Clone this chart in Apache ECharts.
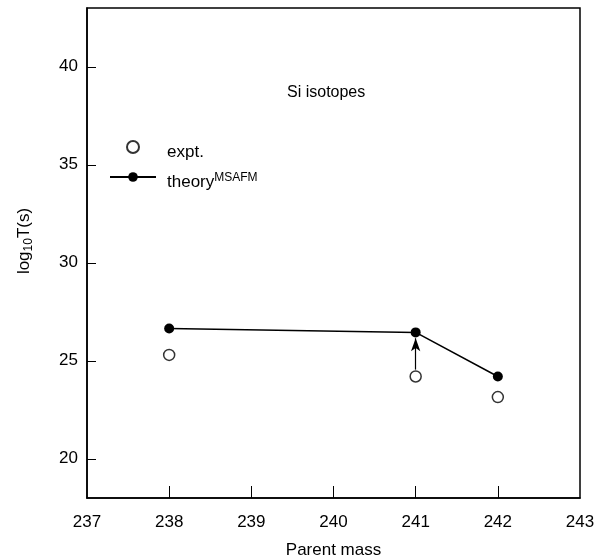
<!DOCTYPE html>
<html><head><meta charset="utf-8">
<script src="https://cdn.jsdelivr.net/npm/echarts@6/dist/echarts.min.js"></script>
<style>html,body{margin:0;padding:0;background:#fff}#c{width:606px;height:560px}</style>
</head><body><div id="c"></div>
<script>
const parentMass = [238, 241, 242];
const exptValues = [25.3, 24.2, 23.15];
const theoryValues = [26.65, 26.45, 24.2];
const xTicks = [237, 238, 239, 240, 241, 242, 243];
const yTicks = [20, 25, 30, 35, 40];
const lowerLimitMass = 241;

const F = '"Liberation Sans", Arial, sans-serif';
const chart = echarts.init(document.getElementById('c'));
chart.setOption({
  animation: false,
  backgroundColor: '#fff',
  grid: {left: 87, right: 26, top: 8, bottom: 62, show: true, borderColor: '#000', borderWidth: 1.5,
    containLabel: false, outerBoundsMode: 'none'},
  legend: {
    orient: 'vertical', left: 104, top: 135, itemGap: 11, itemWidth: 46, itemHeight: 12,
    textStyle: {fontFamily: F, fontSize: 17, color: '#000', padding: [10, 0, 0, 6],
      rich: {sup: {fontFamily: F, fontSize: 12, color: '#000', verticalAlign: 'bottom', padding: [0,0,9,0]}}},
    formatter: n => n === 'theory' ? 'theory{sup|MSAFM}' : n,
    data: [{name: 'expt.'}, {name: 'theory'}]
  },
  graphic: [{type: 'text', left: 287, top: 85, style: {text: 'Si isotopes', font: '16px ' + F, fill: '#000'}}],
  xAxis: {
    type: 'value', min: 237, max: 243,
    name: 'Parent mass', nameLocation: 'middle', nameGap: 44,
    nameTextStyle: {fontFamily: F, fontSize: 17, color: '#000'},
    axisLine: {lineStyle: {color: '#000', width: 1.5}},
    axisTick: {inside: true, length: 12, lineStyle: {color: '#000'}, customValues: xTicks.slice(1, -1)},
    axisLabel: {fontFamily: F, fontSize: 17, color: '#000', margin: 16, customValues: xTicks},
    splitLine: {show: false}
  },
  yAxis: {
    type: 'value', min: 18, max: 43,
    name: 'log{sub|10}T(s)', nameLocation: 'middle', nameGap: 52,
    nameTextStyle: {fontFamily: F, fontSize: 17, color: '#000', padding: [0, 0, 0, 24],
      rich: {sub: {fontFamily: F, fontSize: 12, color: '#000', verticalAlign: 'top', padding: [9,0,0,0]}}},
    axisLine: {lineStyle: {color: '#000', width: 1.5}},
    axisTick: {inside: true, length: 9, lineStyle: {color: '#000'}, customValues: yTicks},
    axisLabel: {fontFamily: F, fontSize: 17, color: '#000', margin: 9, customValues: yTicks},
    splitLine: {show: false}
  },
  series: [
    {
      name: 'expt.', type: 'scatter', symbol: 'circle', symbolSize: 11,
      itemStyle: {color: '#fff', borderColor: '#000', borderWidth: 1.5},
      data: parentMass.map((m, i) => [m, exptValues[i]]),
      markLine: {
        silent: true, symbol: ['none', 'arrow'], symbolSize: [7, 13],
        lineStyle: {color: '#000', type: 'solid', width: 1.2},
        label: {show: false},
        data: [[
          {coord: [lowerLimitMass, exptValues[parentMass.indexOf(lowerLimitMass)] + 0.35]},
          {coord: [lowerLimitMass, theoryValues[parentMass.indexOf(lowerLimitMass)] - 0.3]}
        ]]
      }
    },
    {
      name: 'theory', type: 'line', symbol: 'circle', symbolSize: 10,
      lineStyle: {color: '#000', width: 1.5},
      itemStyle: {color: '#000'},
      data: parentMass.map((m, i) => [m, theoryValues[i]])
    }
  ]
});
</script></body></html>
